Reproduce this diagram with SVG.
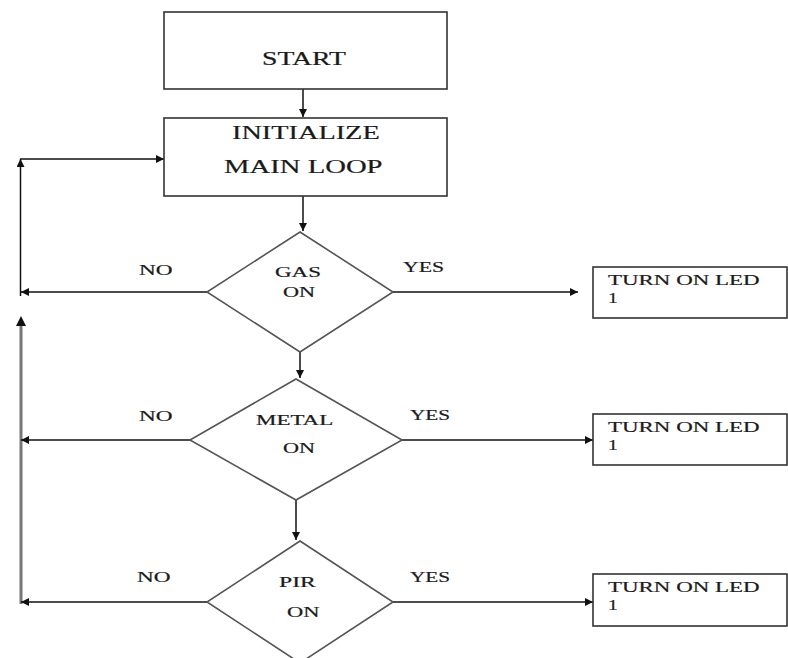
<svg xmlns="http://www.w3.org/2000/svg" width="788" height="658" viewBox="0 0 788 658">
<style>
.box{fill:#fff;stroke:#333;stroke-width:1.6}
.dia{fill:#fff;stroke:#555;stroke-width:1.6}
.ln{fill:none;stroke:#111;stroke-width:1.5}
.gray{fill:none;stroke:#777;stroke-width:3}
text{font-family:"Liberation Serif","Times New Roman",serif;fill:#1a1a1a;stroke:#1a1a1a;stroke-width:0.2}
.big{font-size:19px}
.st{font-size:18px}
.sm{font-size:15px}
</style>
<defs>
<marker id="ah" viewBox="0 0 10 10" refX="10" refY="5" markerWidth="11" markerHeight="8" markerUnits="userSpaceOnUse" orient="auto">
<path d="M0,0 L10,5 L0,10 z" fill="#111"/>
</marker>
</defs>
<rect width="788" height="658" fill="#fff"/>
<g id="connectors">
<line class="ln" x1="303" y1="89" x2="303" y2="117" marker-end="url(#ah)"/>
<line class="ln" x1="303" y1="196" x2="303" y2="231" marker-end="url(#ah)"/>
<line class="ln" x1="300" y1="352" x2="300" y2="378" marker-end="url(#ah)"/>
<line class="ln" x1="296" y1="500" x2="296" y2="540" marker-end="url(#ah)"/>
<line class="ln" x1="20.5" y1="296" x2="20.5" y2="159" marker-end="url(#ah)"/>
<line class="ln" x1="20" y1="159" x2="164" y2="159" marker-end="url(#ah)"/>
<line class="gray" x1="21" y1="604" x2="21" y2="326"/>
<path d="M16,326 L21,316 L26,326 z" fill="#111"/>
<line class="ln" x1="207" y1="292" x2="21" y2="292" marker-end="url(#ah)"/>
<line class="ln" x1="190" y1="440" x2="21" y2="440" marker-end="url(#ah)"/>
<line class="ln" x1="207" y1="602" x2="21" y2="602" marker-end="url(#ah)"/>
<line class="ln" x1="393" y1="292" x2="578" y2="292" marker-end="url(#ah)"/>
<line class="ln" x1="402" y1="440" x2="593" y2="440" marker-end="url(#ah)"/>
<line class="ln" x1="393" y1="602" x2="593" y2="602" marker-end="url(#ah)"/>
</g>
<g id="start">
<rect class="box" x="164" y="12" width="283" height="77"/>
<text class="st" transform="translate(262,65) scale(1.54,1)">START</text>
</g>
<g id="init">
<rect class="box" x="164" y="118" width="283" height="78"/>
<text class="big" transform="translate(232,139) scale(1.49,1)">INITIALIZE</text>
<text class="big" transform="translate(224,173) scale(1.51,1)">MAIN LOOP</text>
</g>
<g id="gas">
<polygon class="dia" points="300,232 393,292 300,352 207,292"/>
<text class="sm" transform="translate(275,277) scale(1.53,1)">GAS</text>
<text class="sm" transform="translate(283,297) scale(1.48,1)">ON</text>
</g>
<g id="metal">
<polygon class="dia" points="296,379 402,440 296,500 190,440"/>
<text class="sm" transform="translate(256,425) scale(1.53,1)">METAL</text>
<text class="sm" transform="translate(283,453) scale(1.48,1)">ON</text>
</g>
<g id="pir">
<polygon class="dia" points="300,541 393,602 300,663 207,602"/>
<text class="sm" transform="translate(279,587) scale(1.58,1)">PIR</text>
<text class="sm" transform="translate(287,617) scale(1.5,1)">ON</text>
</g>
<g id="labels">
<text class="sm" transform="translate(139,275) scale(1.55,1)">NO</text>
<text class="sm" transform="translate(403,272) scale(1.45,1)">YES</text>
<text class="sm" transform="translate(139,421) scale(1.55,1)">NO</text>
<text class="sm" transform="translate(410,420) scale(1.42,1)">YES</text>
<text class="sm" transform="translate(137,582) scale(1.55,1)">NO</text>
<text class="sm" transform="translate(410,582) scale(1.42,1)">YES</text>
</g>
<g id="led1">
<rect class="box" x="593" y="267" width="194" height="51"/>
<text class="sm" transform="translate(608,285) scale(1.53,1)">TURN ON LED</text>
<text class="sm" transform="translate(608,303) scale(1.3,1)">1</text>
</g>
<g id="led2">
<rect class="box" x="593" y="414" width="194" height="51"/>
<text class="sm" transform="translate(608,432) scale(1.53,1)">TURN ON LED</text>
<text class="sm" transform="translate(608,450) scale(1.3,1)">1</text>
</g>
<g id="led3">
<rect class="box" x="593" y="574" width="194" height="52"/>
<text class="sm" transform="translate(608,592) scale(1.53,1)">TURN ON LED</text>
<text class="sm" transform="translate(608,610) scale(1.3,1)">1</text>
</g>
</svg>
